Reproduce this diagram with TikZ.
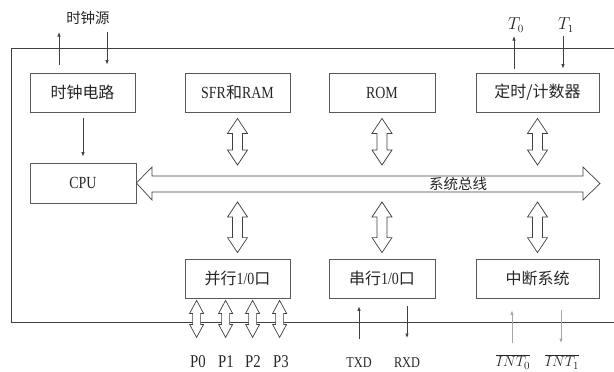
\documentclass[tikz,border=0pt]{standalone}
\usepackage{fontspec}
\setmainfont{Liberation Serif}
\newfontfamily\cjk{Noto Sans CJK SC}
\newfontfamily\lat[FakeStretch=0.82]{Liberation Serif}
\usetikzlibrary{arrows.meta,calc}
\definecolor{linec}{gray}{0.25}
\definecolor{boxc}{gray}{0.35}
\definecolor{lightc}{gray}{0.65}
\definecolor{txtc}{gray}{0.15}
\newcommand{\vdbl}[5]{%
 \draw[dbl] let \p1=(#1), \p2=(#2) in
 (\x1,\y1) -- (\x1+#3pt,\y1-#5pt) -- (\x1+#4pt,\y1-#5pt) -- (\x1+#4pt,\y2+#5pt)
 -- (\x1+#3pt,\y2+#5pt) -- (\x1,\y2) -- (\x1-#3pt,\y2+#5pt) -- (\x1-#4pt,\y2+#5pt)
 -- (\x1-#4pt,\y1-#5pt) -- (\x1-#3pt,\y1-#5pt) -- cycle;}
\begin{document}
\begin{tikzpicture}[x=1pt,y=-1pt,
 box/.style={draw=boxc, line width=0.8pt, minimum width=105pt, minimum height=39pt,
   inner sep=0pt, text=txtc, font=\cjk\fontsize{16}{16}\selectfont},
 ln/.style={draw=linec, line width=0.7pt},
 arr/.style={ln, -{Latex[length=4.5pt,width=3.5pt]}},
 arrl/.style={draw=lightc, line width=0.7pt, -{Latex[length=4.5pt,width=3.5pt]}},
 dbl/.style={draw=linec, line width=0.7pt, fill=white},
 lbl/.style={inner sep=0pt, text=txtc}]
\useasboundingbox (0,0) rectangle (614,372);
% frame
\draw[ln] (620,48) -- (11,48) -- (11,322) -- (620,322);
% boxes
\node[box] (clk) at (82.5,92.5) {时钟电路};
\node[box] (sfr) at (237.5,92.5) {{\lat\fontsize{17}{17}\selectfont SFR}和{\lat\fontsize{17}{17}\selectfont RAM}};
\node[box, minimum width=106pt] (rom) at (382,92.5) {\lat\fontsize{17}{17}\selectfont ROM};
\node[box, minimum width=123pt] (tmr) at (537.5,92.5) {定时/计数器};
\node[box, minimum width=106pt, minimum height=40pt] (cpu) at (83,183) {\lat\fontsize{17}{17}\selectfont CPU};
\node[box] (pio) at (237.5,278.5) {并行{\lat\fontsize{17}{17}\selectfont 1/0}口};
\node[box, minimum width=106pt] (sio) at (382,278.5) {串行{\lat\fontsize{17}{17}\selectfont 1/0}口};
\node[box, minimum width=123pt] (irq) at (537.5,278.5) {中断系统};
% bus
\coordinate (busR) at (600,183.5);
\draw[dbl] (cpu.east) -- (152,167) -- (152,176) -- (583,176) -- (583,167) -- (busR)
  -- (583,200) -- (583,192) -- (152,192) -- (152,200) -- cycle;
\node[lbl, font=\cjk\fontsize{14.5}{14.5}\selectfont] (busL) at (458,184) {系统总线};
\coordinate (bT) at (0,165);
\coordinate (bB) at (0,202);
% vertical bus arrows
\vdbl{$(sfr.south)+(0,6)$}{sfr.south |- bT}{10}{5}{15}
\vdbl{$(rom.south)+(0,6)$}{rom.south |- bT}{10}{5}{15}
\vdbl{$(tmr.south)+(0,6)$}{tmr.south |- bT}{10}{5}{15}
\vdbl{pio.north |- bB}{$(pio.north)+(0,-6)$}{10}{5}{15}
\vdbl{sio.north |- bB}{$(sio.north)+(0,-6)$}{10}{5}{15}
\vdbl{irq.north |- bB}{$(irq.north)+(0,-6)$}{10}{5}{15}
% port arrows
\vdbl{$(pio.south west)+(12,2)$}{$(pio.south west)+(12,39)$}{7}{4}{13}
\vdbl{$(pio.south west)+(41,2)$}{$(pio.south west)+(41,39)$}{7}{4}{13}
\vdbl{$(pio.south west)+(68,2)$}{$(pio.south west)+(68,39)$}{7}{4}{13}
\vdbl{$(pio.south west)+(95,2)$}{$(pio.south west)+(95,39)$}{7}{4}{13}
\node[lbl, font=\lat\fontsize{18}{18}\selectfont] (p0) at (198,362) {P0};
\node[lbl, font=\lat\fontsize{18}{18}\selectfont] (p1) at (226,362) {P1};
\node[lbl, font=\lat\fontsize{18}{18}\selectfont] (p2) at (253,362) {P2};
\node[lbl, font=\lat\fontsize{18}{18}\selectfont] (p3) at (281,362) {P3};
% clock
\draw[arr] (clk.south) ++(0.5,6) coordinate (ck1) (ck1) -- ($(cpu.north)+(0,-6)$);
\coordinate (cs1) at (59,32);
\coordinate (cs2) at (107,32);
\draw[arr, shorten <=8pt] (clk.north -| cs1) -- (cs1);
\draw[arr, shorten >=8pt] (cs2) -- (clk.north -| cs2);
\node[lbl, font=\cjk\fontsize{14.5}{14.5}\selectfont] (srcL) at (88,18) {时钟源};
% timers
\coordinate (t0) at (514,36);
\coordinate (t1) at (563,36);
\draw[arr, shorten <=4pt] (tmr.north -| t0) -- (t0);
\draw[arr, shorten >=4pt] (t1) -- (tmr.north -| t1);
\node[lbl, font=\fontsize{16}{16}\selectfont] (t0L) at (516,25) {$T_0$};
\node[lbl, font=\fontsize{16}{16}\selectfont] (t1L) at (566,25) {$T_1$};
% serial
\coordinate (tx) at (359,339);
\coordinate (rx) at (407,338);
\draw[arr, shorten >=8pt] (tx) -- (sio.south -| tx);
\draw[arr, shorten <=8pt] (sio.south -| rx) -- (rx);
\node[lbl, font=\lat\fontsize{15}{15}\selectfont] (txL) at (359,363) {TXD};
\node[lbl, font=\lat\fontsize{15}{15}\selectfont] (rxL) at (407,363) {RXD};
% interrupts
\coordinate (i0) at (512,343);
\coordinate (i1) at (561,343);
\draw[arrl, shorten >=12pt] (i0) -- (irq.south -| i0);
\draw[arrl, shorten <=12pt] (irq.south -| i1) -- (i1);
\node[lbl, font=\fontsize{15}{15}\selectfont] (i0L) at (513,362) {$\overline{INT_0}$};
\node[lbl, font=\fontsize{15}{15}\selectfont] (i1L) at (562,362) {$\overline{INT_1}$};
\end{tikzpicture}
\end{document}
